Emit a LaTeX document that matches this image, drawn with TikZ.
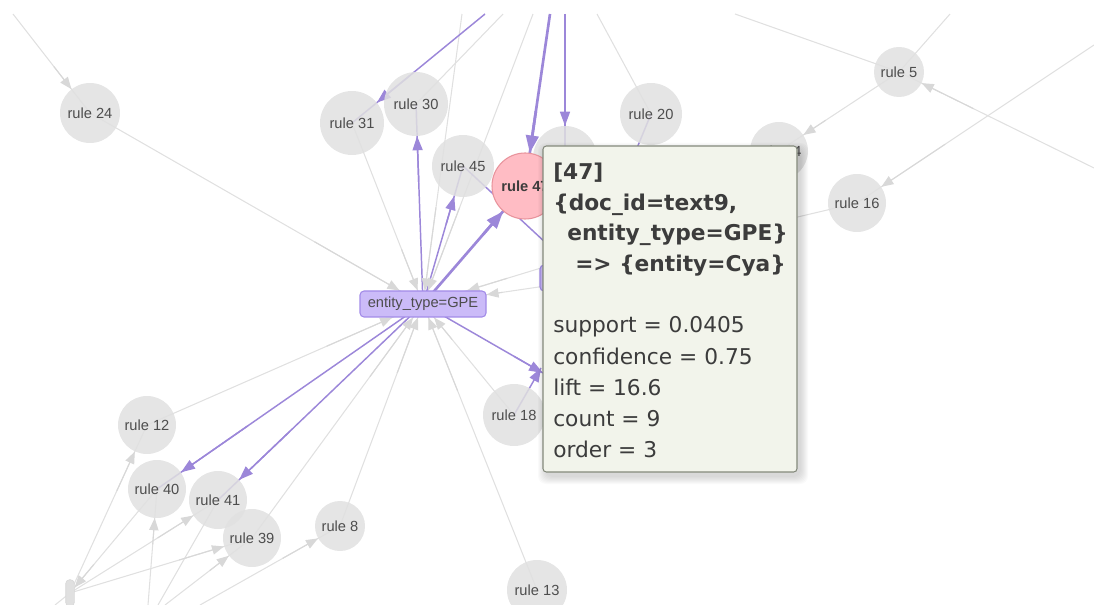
\documentclass[tikz,border=0pt]{standalone}
\usepackage{fontspec}
\setmainfont{Liberation Sans}
\newfontfamily\tipfont{DejaVu Sans}
\usetikzlibrary{arrows.meta}

\definecolor{nodegrey}{HTML}{E0E0E0}
\definecolor{edgegrey}{HTML}{E0E0E0}
\definecolor{tipgrey}{HTML}{D8D8D8}
\definecolor{edgepurple}{HTML}{9C87D9}
\definecolor{boxpurple}{HTML}{CBBBF8}
\definecolor{boxedge}{HTML}{A28BE8}
\definecolor{pinkfill}{HTML}{FFBCC4}
\definecolor{pinkedge}{HTML}{E8939C}
\definecolor{tipbg}{HTML}{F2F4EB}
\definecolor{tipframe}{HTML}{848A7C}
\definecolor{labelgrey}{HTML}{4D4D4D}
\definecolor{tiptext}{HTML}{3C3C3C}

\pgfdeclarelayer{edges}
\pgfdeclarelayer{overlay}
\pgfsetlayers{edges,main,overlay}

\tikzset{
  rulenode/.style={circle, fill=nodegrey, fill opacity=0.85, text opacity=1,
    inner sep=0pt, minimum size=#1*1.5pt, text=labelgrey,
    font=\fontsize{11}{13}\selectfont},
  hotnode/.style={circle, fill=pinkfill, draw=pinkedge, line width=0.8pt,
    inner sep=0pt, minimum size=#1*1.5pt, text=tiptext,
    font=\bfseries\fontsize{11}{13}\selectfont},
  itembox/.style={rectangle, rounded corners=3pt, fill=boxpurple, draw=boxedge,
    line width=0.8pt, minimum width=94.5pt, minimum height=19.5pt, inner sep=0pt,
    text=labelgrey, font=\fontsize{11}{13}\selectfont},
  pillbox/.style={rectangle, rounded corners=3pt, fill=nodegrey, draw=tipgrey,
    line width=0.5pt, minimum width=6.5pt, minimum height=20pt, inner sep=0pt},
  eg/.style={draw=edgegrey, line width=0.8pt},
  ep/.style={draw=edgepurple, line width=1.1pt},
  eP/.style={draw=edgepurple, line width=2pt},
  gtip/.style={draw=tipgrey, line width=0.8pt, -{Triangle[length=9pt,width=7pt]}},
  ptip/.style={draw=edgepurple, line width=1.1pt, -{Triangle[length=10.5pt,width=7.5pt]}},
  Ptip/.style={draw=edgepurple, line width=2pt, -{Triangle[length=13pt,width=9.5pt]}},
  infobox/.style={rectangle, rounded corners=2.5pt, fill=tipbg, draw=tipframe,
    line width=0.8pt, minimum width=190.5pt, minimum height=244.5pt, inner sep=0pt},
  infoline/.style={font=\tipfont\fontsize{16.3}{20}\selectfont, text=tiptext,
    anchor=base west, inner sep=0pt},
}

\begin{document}
\begin{tikzpicture}[x=0.75pt, y=-0.75pt]
  \useasboundingbox (0,0) rectangle (1094,605);
  \clip (0,0) rectangle (1094,605);

  % rule nodes
  \node[rulenode=30] (r24) at (90,113) {rule 24};
  \node[rulenode=32] (r31) at (352,123) {rule 31};
  \node[rulenode=32] (r30) at (416,104) {rule 30};
  \node[rulenode=31] (r45) at (463,166) {rule 45};
  \node[rulenode=32] (hid1) at (565,158) {};
  \node[hotnode=33] (r47) at (525,186) {rule 47};
  \node[rulenode=31] (r20) at (651,114) {rule 20};
  \node[rulenode=29] (r4x) at (779,151) {rule 14};
  \node[rulenode=25] (r5) at (899,72) {rule 5};
  \node[rulenode=29] (r16) at (857,203) {rule 16};
  \node[itembox] (ent) at (423,304) {entity\_type=GPE};
  \node[itembox, minimum width=90pt] (hp) at (600,278) {};
  \node[rulenode=29] (r12) at (147,425) {rule 12};
  \node[rulenode=29] (r40) at (157,489) {rule 40};
  \node[rulenode=29] (r41) at (218,500) {rule 41};
  \node[rulenode=29] (r39) at (252,538) {rule 39};
  \node[rulenode=25] (r8) at (340,526) {rule 8};
  \node[rulenode=31] (r18) at (514,415) {rule 18};
  \node[rulenode=30] (r13) at (537,590) {rule 13};
  \node[pillbox] (pill) at (70,593) {};

  % free connector ends
  \coordinate (f1) at (13,14);
  \coordinate (f2) at (462,14);
  \coordinate (f3) at (503,14);
  \coordinate (f4) at (533,14);
  \coordinate (f5) at (597,14);
  \coordinate (f6) at (735,14);
  \coordinate (f7) at (950,14);
  \coordinate (f8) at (1094,45);
  \coordinate (f9) at (1094,168);
  \coordinate (f11) at (55,605);
  \coordinate (f12) at (148,605);
  \coordinate (f13) at (165,605);
  \coordinate (f14) at (200,605);
  \coordinate (f15) at (158,605);
  \coordinate (f16) at (485,14);
  \coordinate (f17) at (550,14);
  \coordinate (f18) at (565,14);
  \coordinate (hB) at (543,373);
  \coordinate (hc) at (541,368);
  \coordinate (h20) at (630,165);
  \coordinate (h45) at (560,256);
  \coordinate (h16) at (700,240);
  \coordinate (h2) at (600,250);

  \begin{pgfonlayer}{edges}
    % connector lines, centre to centre
    \foreach \a/\b/\s in {f1/r24/eg, r24/ent/eg, r31/ent/eg, f2/ent/eg, r30/f3/eg,
        f4/ent/eg, r20/f5/eg, r5/f6/eg, r5/f7/eg, r5/r4x/eg, f8/r16/eg, f9/r5/eg,
        r16/h16/eg, r12/ent/eg, r8/ent/eg, r39/ent/eg, r18/ent/eg, r13/ent/eg,
        hp/ent/eg, h2/ent/eg, pill/r12/eg, r40/pill/eg, pill/r41/eg, pill/r39/eg,
        pill/f11/eg, f12/r40/eg, f13/r39/eg, f14/r8/eg, r41/f15/eg,
        f16/r31/ep, ent/r30/ep, ent/r45/ep, ent/r47/eP, f17/r47/eP, f18/hid1/ep,
        ent/r40/ep, ent/r41/ep, ent/hB/ep, r18/hc/ep, r20/h20/ep, r45/h45/ep}
      {\draw[\s] (\a.center) -- (\b.center);}
    % arrowheads at the target borders
    \foreach \a/\b/\s in {f1/r24/gtip, r24/ent/gtip, r31/ent/gtip, f2/ent/gtip,
        f4/ent/gtip, r5/r4x/gtip, f8/r16/gtip, f9/r5/gtip, r12/ent/gtip,
        r8/ent/gtip, r39/ent/gtip, r18/ent/gtip, r13/ent/gtip, hp/ent/gtip,
        h2/ent/gtip, pill/r12/gtip, r40/pill/gtip, pill/r41/gtip, pill/r39/gtip,
        f12/r40/gtip, f13/r39/gtip, f14/r8/gtip,
        f16/r31/ptip, ent/r30/ptip, ent/r45/ptip, ent/r47/Ptip, f17/r47/Ptip,
        f18/hid1/ptip, ent/r40/ptip, ent/r41/ptip, ent/hB/ptip, r18/hc/ptip}
      {\path (\a) -- (\b) coordinate[pos=0.7] (u) coordinate[pos=1] (v);
       \draw[\s] (u) -- (v);}
  \end{pgfonlayer}

  % hover box with the rule details
  \begin{pgfonlayer}{overlay}
    \foreach \k in {1,...,8}
      \fill[black, opacity=0.02, rounded corners=6pt]
        ({543+3-\k},{146+5-\k}) rectangle ({797+3+\k},{472+4+\k});
    \node[infobox] (tipbox) at (670,309) {};
    \node[infoline] (t1) at (553,180) {\bfseries [47]};
    \node[infoline] (t2) at (553,211) {\bfseries \{doc\_id=text9,};
    \node[infoline] (t3) at (567,241) {\bfseries entity\_type=GPE\}};
    \node[infoline] (t4) at (575,272) {\bfseries => \{entity=Cya\}};
    \node[infoline] (t5) at (553,333) {support = 0.0405};
    \node[infoline] (t6) at (553,364) {confidence = 0.75};
    \node[infoline] (t7) at (553,395) {lift = 16.6};
    \node[infoline] (t8) at (553,426) {count = 9};
    \node[infoline] (t9) at (553,457) {order = 3};
  \end{pgfonlayer}
\end{tikzpicture}
\end{document}
